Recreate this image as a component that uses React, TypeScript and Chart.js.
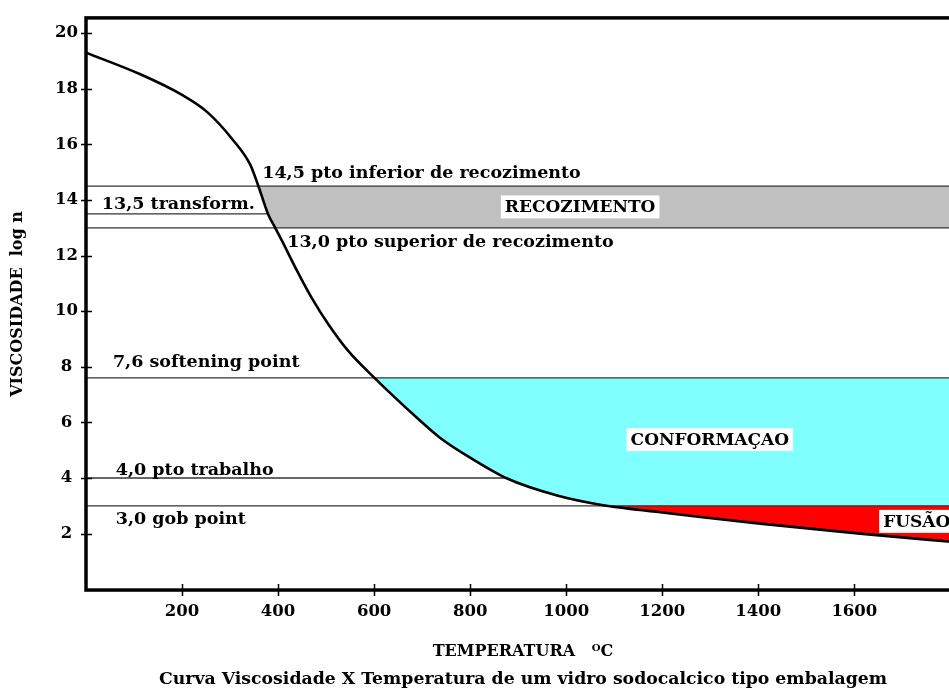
import React, { useEffect, useRef } from 'react';
import { Chart, registerables } from 'chart.js';

Chart.register(...registerables);

// ---- data ----
const temperatureC = [0, 112, 200, 252, 306, 342, 358, 379, 394, 409, 439, 470, 505, 546, 599, 696, 737, 800, 877, 981, 1077, 1148, 1196, 1279, 1404, 1612, 1820];
const logViscosity = [19.3, 18.53, 17.78, 17.17, 16.16, 15.27, 14.55, 13.5, 13.0, 12.5, 11.47, 10.48, 9.52, 8.57, 7.63, 6.06, 5.45, 4.73, 3.98, 3.37, 3.02, 2.86, 2.77, 2.6, 2.36, 2.0, 1.68];

const refLevels = [14.5, 13.5, 13.0, 7.6, 4.0, 3.0];
const refLineEndC = [1820, 379, 1820, 1820, 877, 1820];
const refLabels = [
  '14,5 pto inferior de recozimento',
  '13,5 transform.',
  '13,0 pto superior de recozimento',
  '7,6 softening point',
  '4,0 pto trabalho',
  '3,0 gob point',
];

const bandNames = ['RECOZIMENTO', 'CONFORMAÇAO', 'FUSÃO'];
const bandUpper = [14.5, 7.6, 3.0];
const bandLower = [13.0, 3.0, -1];

const xTickValues = [200, 400, 600, 800, 1000, 1200, 1400, 1600];
const yTickValues = [2, 4, 6, 8, 10, 12, 14, 16, 18, 20];

const X_MIN = 0;
const X_MAX = 1820;
const Y_MIN = -0.03;
const Y_MAX = 20.55;

const yTitle = 'VISCOSIDADE  log n';
const xTitle = 'TEMPERATURA   ᴼC';
const chartTitle = 'Curva Viscosidade X Temperatura de um vidro sodocalcico tipo embalagem';

// ---- styles / placement (not data) ----
const FONT = "'DejaVu Serif', 'Liberation Serif', serif";
const bandColors = ['#c0c0c0', '#80ffff', '#ff0000'];
const refLabelAnchorC = [367, 33, 419, 56, 62, 62];
const refLabelDy = [-8, -5, 19.5, -10.5, -3.5, 18.5];
const bandLabelAnchorC = [1029, 1299, 1660];
const bandLabelAnchorV = [13.75, 5.38, 2.44];
const bandLabelAlign: CanvasTextAlign[] = ['center', 'center', 'left'];
const bandLabelBoxExtra = [0, 0, 30];

const bandsPlugin = {
  id: 'bands',
  beforeDatasetsDraw(chart: any) {
    const { ctx, chartArea: a, scales } = chart;
    const y = scales.y;
    const meta = chart.getDatasetMeta(0);
    const line = meta.dataset;
    const pts = meta.data;
    if (!line || !pts.length) return;
    const last = pts[pts.length - 1];
    const first = pts[0];
    ctx.save();
    ctx.beginPath();
    ctx.rect(a.left, a.top, a.right - a.left, a.bottom - a.top);
    ctx.clip();
    ctx.beginPath();
    line.path(ctx);
    ctx.lineTo(a.right + 30, last.y);
    ctx.lineTo(a.right + 30, a.top - 30);
    ctx.lineTo(first.x, a.top - 30);
    ctx.closePath();
    ctx.clip();
    for (let i = 0; i < bandNames.length; i++) {
      const top = y.getPixelForValue(bandUpper[i]);
      const bot = bandLower[i] <= Y_MIN ? a.bottom + 10 : y.getPixelForValue(bandLower[i]);
      ctx.fillStyle = bandColors[i];
      ctx.fillRect(a.left, top, a.right - a.left + 40, bot - top);
    }
    ctx.restore();
  },
  afterDatasetsDraw(chart: any) {
    const { ctx, scales } = chart;
    const x = scales.x, y = scales.y;
    ctx.save();
    ctx.font = `bold 17.5px ${FONT}`;
    ctx.fillStyle = '#000';
    ctx.textBaseline = 'alphabetic';
    ctx.textAlign = 'left';
    for (let i = 0; i < refLabels.length; i++) {
      const px = x.getPixelForValue(refLabelAnchorC[i]);
      const py = y.getPixelForValue(refLevels[i]) + refLabelDy[i];
      ctx.fillText(refLabels[i], px, py);
    }
    ctx.font = `bold 17px ${FONT}`;
    ctx.textBaseline = 'middle';
    for (let i = 0; i < bandNames.length; i++) {
      const px = x.getPixelForValue(bandLabelAnchorC[i]);
      const py = y.getPixelForValue(bandLabelAnchorV[i]);
      const w = ctx.measureText(bandNames[i]).width;
      const padX = 4, h = 23;
      const left = bandLabelAlign[i] === 'center' ? px - w / 2 - padX : px - padX;
      ctx.fillStyle = '#fff';
      ctx.fillRect(left, py - h / 2, w + 2 * padX + bandLabelBoxExtra[i], h);
      ctx.fillStyle = '#000';
      ctx.textAlign = 'left';
      ctx.fillText(bandNames[i], left + padX, py + 1);
    }
    ctx.restore();
  },
  afterDraw(chart: any) {
    const { ctx, chartArea: a, scales } = chart;
    const x = scales.x, y = scales.y;
    ctx.save();
    ctx.strokeStyle = '#000';
    ctx.lineWidth = 1.5;
    ctx.beginPath();
    for (const v of yTickValues) {
      const py = Math.round(y.getPixelForValue(v)) + 0.5;
      ctx.moveTo(a.left - 5, py);
      ctx.lineTo(a.left + 6, py);
    }
    for (const t of xTickValues) {
      const px = Math.round(x.getPixelForValue(t)) + 0.5;
      ctx.moveTo(px, a.bottom - 6);
      ctx.lineTo(px, a.bottom + 6);
    }
    ctx.stroke();
    ctx.lineWidth = 3.5;
    ctx.strokeRect(a.left, a.top, a.right - a.left, a.bottom - a.top);
    ctx.restore();
  },
};

export default function App() {
  const canvasRef = useRef<HTMLCanvasElement | null>(null);

  useEffect(() => {
    const canvas = canvasRef.current;
    if (!canvas) return;
    const curve = temperatureC.map((t, i) => ({ x: t, y: logViscosity[i] }));
    const refSets = refLevels.map((lv, i) => ({
      label: refLabels[i],
      data: [{ x: X_MIN, y: lv }, { x: refLineEndC[i], y: lv }],
      borderColor: '#333',
      borderWidth: 1.3,
      pointRadius: 0,
      fill: false,
      tension: 0,
    }));
    const chart = new Chart(canvas, {
      type: 'line',
      data: {
        datasets: [
          {
            label: 'log η',
            data: curve,
            borderColor: '#000',
            borderWidth: 2.6,
            pointRadius: 0,
            fill: false,
            cubicInterpolationMode: 'monotone',
          } as any,
          ...refSets,
        ],
      },
      options: {
        animation: false,
        responsive: false,
        devicePixelRatio: 1,
        layout: { padding: { top: 15, right: 2, left: 0, bottom: 0 } },
        plugins: {
          legend: { display: false },
          tooltip: { enabled: false },
          title: {
            display: true,
            position: 'bottom',
            fullSize: false,
            text: chartTitle,
            color: '#000',
            font: { family: FONT, size: 17.3, weight: 'bold', lineHeight: 1.2 },
            padding: { top: 3, bottom: 1 },
          },
        },
        scales: {
          x: {
            type: 'linear',
            min: X_MIN,
            max: X_MAX,
            afterBuildTicks: (s: any) => { s.ticks = xTickValues.map((v) => ({ value: v })); },
            afterFit: (s: any) => { s.height = 76.2; },
            grid: { display: false, drawTicks: false },
            border: { display: false },
            ticks: {
              autoSkip: false,
              maxRotation: 0,
              padding: 12,
              color: '#000',
              font: { family: FONT, size: 16.5, weight: 'bold' },
              callback: (v: any) => String(v),
            },
            title: {
              display: true,
              text: xTitle,
              color: '#000',
              font: { family: FONT, size: 16, weight: 'bold', lineHeight: 1.2 },
              padding: { top: 0, bottom: 5 },
            },
          },
          y: {
            type: 'linear',
            min: Y_MIN,
            max: Y_MAX,
            afterBuildTicks: (s: any) => { s.ticks = yTickValues.map((v) => ({ value: v })); },
            afterFit: (s: any) => { s.width = 86; },
            grid: { display: false, drawTicks: false },
            border: { display: false },
            ticks: {
              autoSkip: false,
              padding: 8,
              crossAlign: 'center',
              color: '#000',
              font: { family: FONT, size: 16.5, weight: 'bold' },
              callback: (v: any) => String(v),
            },
            title: {
              display: true,
              text: yTitle,
              color: '#000',
              font: { family: FONT, size: 16, weight: 'bold', lineHeight: 1.2 },
              padding: { top: 8, bottom: 0 },
            },
          },
        },
      },
      plugins: [bandsPlugin],
    });
    return () => chart.destroy();
  }, []);

  return (
    <div style={{ position: 'absolute', left: 0, top: 0, width: 949, height: 691, overflow: 'hidden', background: '#fff' }}>
      <canvas ref={canvasRef} width={962} height={691} style={{ width: 962, height: 691, display: 'block' }} />
    </div>
  );
}
